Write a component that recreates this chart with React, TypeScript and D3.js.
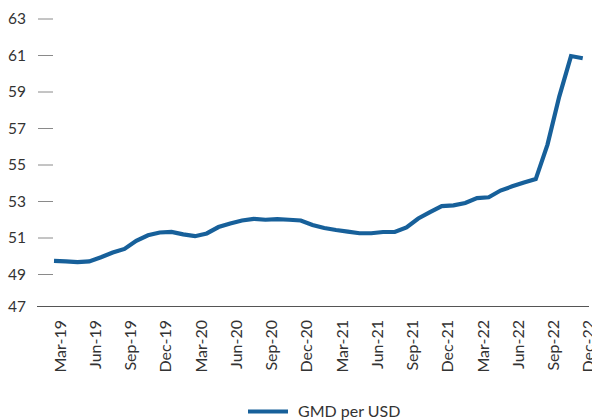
import React from "react";
import * as d3 from "d3";

const months: string[] = [
  "Mar-19", "Apr-19", "May-19", "Jun-19", "Jul-19", "Aug-19", "Sep-19", "Oct-19", "Nov-19", "Dec-19",
  "Jan-20", "Feb-20", "Mar-20", "Apr-20", "May-20", "Jun-20", "Jul-20", "Aug-20", "Sep-20", "Oct-20",
  "Nov-20", "Dec-20", "Jan-21", "Feb-21", "Mar-21", "Apr-21", "May-21", "Jun-21", "Jul-21", "Aug-21",
  "Sep-21", "Oct-21", "Nov-21", "Dec-21", "Jan-22", "Feb-22", "Mar-22", "Apr-22", "May-22", "Jun-22",
  "Jul-22", "Aug-22", "Sep-22", "Oct-22", "Nov-22", "Dec-22",
];

const gmdPerUsd: number[] = [
  49.75, 49.72, 49.68, 49.72, 49.95, 50.2, 50.4, 50.85, 51.15, 51.3,
  51.33, 51.2, 51.1, 51.25, 51.6, 51.8, 51.96, 52.05, 52.0, 52.03,
  52.0, 51.96, 51.71, 51.55, 51.44, 51.35, 51.26, 51.26, 51.33, 51.33,
  51.58, 52.07, 52.42, 52.75, 52.79, 52.92, 53.19, 53.23, 53.6, 53.83,
  54.04, 54.23, 56.12, 58.75, 60.97, 60.85,
];

const yTicks: number[] = [49, 51, 53, 55, 57, 59, 61, 63];
const baseLabel = "47";
const seriesName = "GMD per USD";

const W = 592, H = 420;
const FONT = "Lato, 'Open Sans', sans-serif";
const LINE_COLOR = "#17609a";
const TEXT_COLOR = "#333333";

export default function App() {
  const x = d3.scalePoint<string>().domain(months).range([54, 582.75]);
  const y = d3.scaleLinear().domain([49, 63]).range([274.5, 19]);
  const baseY = 306.5;
  const line = d3
    .line<number>()
    .x((_, i) => x(months[i]) as number)
    .y((d) => y(d));
  const labelMonths = months.filter((_, i) => i % 3 === 0);

  return (
    <div style={{ position: "absolute", left: 0, top: 0 }}>
      <svg width={W} height={H} style={{ display: "block", background: "#fff" }}>
        {yTicks.map((t) => (
          <g key={t}>
            <line x1={38} x2={53} y1={y(t)} y2={y(t)} stroke="#8a8a8a" strokeWidth={1} />
            <text x={26} y={y(t)} dy="0.35em" textAnchor="end" fontFamily={FONT} fontSize={15.5} fill={TEXT_COLOR}>
              {t}
            </text>
          </g>
        ))}
        <line x1={37} x2={589} y1={baseY} y2={baseY} stroke="#555" strokeWidth={1.2} />
        <text x={26} y={baseY} dy="0.35em" textAnchor="end" fontFamily={FONT} fontSize={15.5} fill={TEXT_COLOR}>
          {baseLabel}
        </text>
        {labelMonths.map((m) => (
          <text
            key={m}
            transform={`translate(${(x(m) as number) + 6},320) rotate(-90)`}
            dy="0.35em"
            textAnchor="end"
            fontFamily={FONT}
            fontSize={16}
            fill={TEXT_COLOR}
          >
            {m}
          </text>
        ))}
        <path d={line(gmdPerUsd) || ""} fill="none" stroke={LINE_COLOR} strokeWidth={4.2} strokeLinejoin="miter" />
        <line x1={248} x2={288} y1={411.5} y2={411.5} stroke={LINE_COLOR} strokeWidth={4} />
        <text x={298} y={411.5} dy="0.35em" fontFamily={FONT} fontSize={16} fill={TEXT_COLOR}>
          {seriesName}
        </text>
      </svg>
    </div>
  );
}
